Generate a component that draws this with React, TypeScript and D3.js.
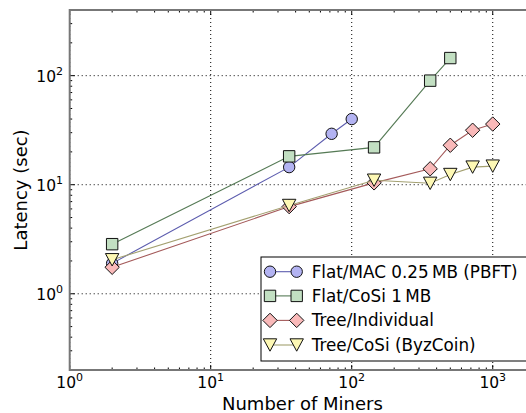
import React from "react";
import * as d3 from "d3";

const macX = [2, 36, 72, 100];
const macY = [1.9, 14.5, 29.3, 40];
const flatCosiX = [2, 36, 144, 360, 500];
const flatCosiY = [2.85, 18.2, 22, 90, 145];
const treeIndX = [2, 36, 144, 360, 500, 720, 1000];
const treeIndY = [1.75, 6.3, 10.4, 14, 23, 31.6, 36];
const treeCosiX = [2, 36, 144, 360, 500, 720, 1000];
const treeCosiY = [2.05, 6.45, 11, 10.3, 12.4, 14.5, 14.8];

const seriesNames = [
  "Flat/MAC 0.25\u2009MB (PBFT)",
  "Flat/CoSi 1\u2009MB",
  "Tree/Individual",
  "Tree/CoSi (ByzCoin)",
];
const xMajorTicks = [1, 10, 100, 1000];
const yMajorTicks = [1, 10, 100];
const xLabel = "Number of Miners";
const yLabel = "Latency (sec)";

type Shape = "circle" | "square" | "diamond" | "triangle";

const FONT = "DejaVu Sans, sans-serif";

function markerPath(shape: Shape, cx: number, cy: number): string {
  if (shape === "circle") {
    const r = 5.7;
    return `M${cx - r},${cy}a${r},${r} 0 1,0 ${2 * r},0a${r},${r} 0 1,0 ${-2 * r},0Z`;
  }
  if (shape === "square") {
    const h = 5.7;
    return `M${cx - h},${cy - h}h${2 * h}v${2 * h}h${-2 * h}Z`;
  }
  if (shape === "diamond") {
    const h = 7.2;
    return `M${cx},${cy - h}L${cx + h},${cy}L${cx},${cy + h}L${cx - h},${cy}Z`;
  }
  const w = 6.7;
  const h = 6.2;
  return `M${cx - w},${cy - h}L${cx + w},${cy - h}L${cx},${cy + h}Z`;
}

export default function App() {
  const W = 526;
  const H = 413;
  const left = 69.7;
  const right = 535.2;
  const top = 10;
  const bottom = 370;

  const x = d3.scaleLog().domain([1, 2000]).range([left, right]);
  const y = d3.scaleLog().domain([0.2, 400]).range([bottom, top]);

  const series = [
    { name: seriesNames[0], xs: macX, ys: macY, shape: "circle" as Shape, fill: "#b3b3f2", line: "#5c5cae" },
    { name: seriesNames[1], xs: flatCosiX, ys: flatCosiY, shape: "square" as Shape, fill: "#c2dfc2", line: "#557a55" },
    { name: seriesNames[2], xs: treeIndX, ys: treeIndY, shape: "diamond" as Shape, fill: "#f9b9b9", line: "#a45a5a" },
    { name: seriesNames[3], xs: treeCosiX, ys: treeCosiY, shape: "triangle" as Shape, fill: "#fdf8b4", line: "#a3a070" },
  ];

  const line = d3
    .line<[number, number]>()
    .x((d) => x(d[0]))
    .y((d) => y(d[1]));

  const xMinor: number[] = [];
  for (let e = 0; e <= 3; e++)
    for (let m = 2; m <= 9; m++) {
      const v = m * Math.pow(10, e);
      if (v <= 2000) xMinor.push(v);
    }
  const yMinor: number[] = [];
  for (let e = -1; e <= 2; e++)
    for (let m = 2; m <= 9; m++) {
      const v = m * Math.pow(10, e);
      if (v >= 0.2 && v <= 400) yMinor.push(v);
    }

  const spine = "#777777";
  const tickFs = 15.5;
  const supFs = 11;

  const legX = 261;
  const legY = 257;
  const legRowY = [271.7, 295.9, 320.4, 345];

  return (
    <svg
      width={W}
      height={H}
      style={{ position: "absolute", left: 0, top: 0, overflow: "hidden", background: "#fff" }}
      fontFamily={FONT}
    >
      <rect x={0} y={0} width={W} height={H} fill="#fff" />
      {xMajorTicks.map((t) => (
        <line key={"gx" + t} x1={x(t)} x2={x(t)} y1={top} y2={bottom} stroke="#000" strokeWidth={1} strokeDasharray="1,3" />
      ))}
      {yMajorTicks.map((t) => (
        <line key={"gy" + t} x1={left} x2={right} y1={y(t)} y2={y(t)} stroke="#000" strokeWidth={1} strokeDasharray="1,3" />
      ))}

      {xMinor.map((t) => (
        <g key={"xm" + t}>
          <line x1={x(t)} x2={x(t)} y1={bottom} y2={bottom - 2.5} stroke="#000" strokeWidth={1} />
          <line x1={x(t)} x2={x(t)} y1={top} y2={top + 2.5} stroke="#000" strokeWidth={1} />
        </g>
      ))}
      {yMinor.map((t) => (
        <g key={"ym" + t}>
          <line x1={left} x2={left + 2.5} y1={y(t)} y2={y(t)} stroke="#000" strokeWidth={1} />
          <line x1={right} x2={right - 2.5} y1={y(t)} y2={y(t)} stroke="#000" strokeWidth={1} />
        </g>
      ))}
      {xMajorTicks.map((t) => (
        <g key={"xM" + t}>
          <line x1={x(t)} x2={x(t)} y1={bottom} y2={bottom - 5} stroke="#000" strokeWidth={1} />
          <line x1={x(t)} x2={x(t)} y1={top} y2={top + 5} stroke="#000" strokeWidth={1} />
        </g>
      ))}
      {yMajorTicks.map((t) => (
        <g key={"yM" + t}>
          <line x1={left} x2={left + 5} y1={y(t)} y2={y(t)} stroke="#000" strokeWidth={1} />
          <line x1={right} x2={right - 5} y1={y(t)} y2={y(t)} stroke="#000" strokeWidth={1} />
        </g>
      ))}

      {series.map((s) => {
        const pts: [number, number][] = s.xs.map((v, i) => [v, s.ys[i]]);
        return (
          <g key={s.name}>
            <path d={line(pts) || ""} fill="none" stroke={s.line} strokeWidth={1.1} />
            {pts.map((p, i) => (
              <path key={i} d={markerPath(s.shape, x(p[0]), y(p[1]))} fill={s.fill} stroke="#111" strokeWidth={1} />
            ))}
          </g>
        );
      })}

      <rect x={left} y={top} width={right - left} height={bottom - top} fill="none" stroke={spine} strokeWidth={2} />

      {xMajorTicks.map((t) => (
        <text key={"xl" + t} x={x(t)} y={388} textAnchor="middle" fontSize={tickFs} fill="#000">
          10
          <tspan dy={-7} fontSize={supFs}>{Math.round(Math.log10(t))}</tspan>
        </text>
      ))}
      {yMajorTicks.map((t) => (
        <text key={"yl" + t} x={63} y={y(t) + 6} textAnchor="end" fontSize={tickFs} fill="#000">
          10
          <tspan dy={-7} fontSize={supFs}>{Math.round(Math.log10(t))}</tspan>
        </text>
      ))}

      <text x={(left + right) / 2} y={410} textAnchor="middle" fontSize={18} fill="#000">
        {xLabel}
      </text>
      <text
        transform={`translate(27,${(top + bottom) / 2}) rotate(-90)`}
        textAnchor="middle"
        fontSize={18}
        fill="#000"
      >
        {yLabel}
      </text>

      <rect x={legX} y={legY} width={270} height={104} fill="#fff" stroke="#000" strokeWidth={1} />
      {series.map((s, i) => {
        const yy = legRowY[i];
        return (
          <g key={"leg" + s.name}>
            <line x1={270} x2={296.7} y1={yy} y2={yy} stroke={s.line} strokeWidth={1.1} />
            <path d={markerPath(s.shape, 270, yy)} fill={s.fill} stroke="#111" strokeWidth={1} />
            <path d={markerPath(s.shape, 296.7, yy)} fill={s.fill} stroke="#111" strokeWidth={1} />
            <text x={311.7} y={yy} dy="0.36em" fontSize={16.8} fill="#000">
              {s.name}
            </text>
          </g>
        );
      })}
    </svg>
  );
}
